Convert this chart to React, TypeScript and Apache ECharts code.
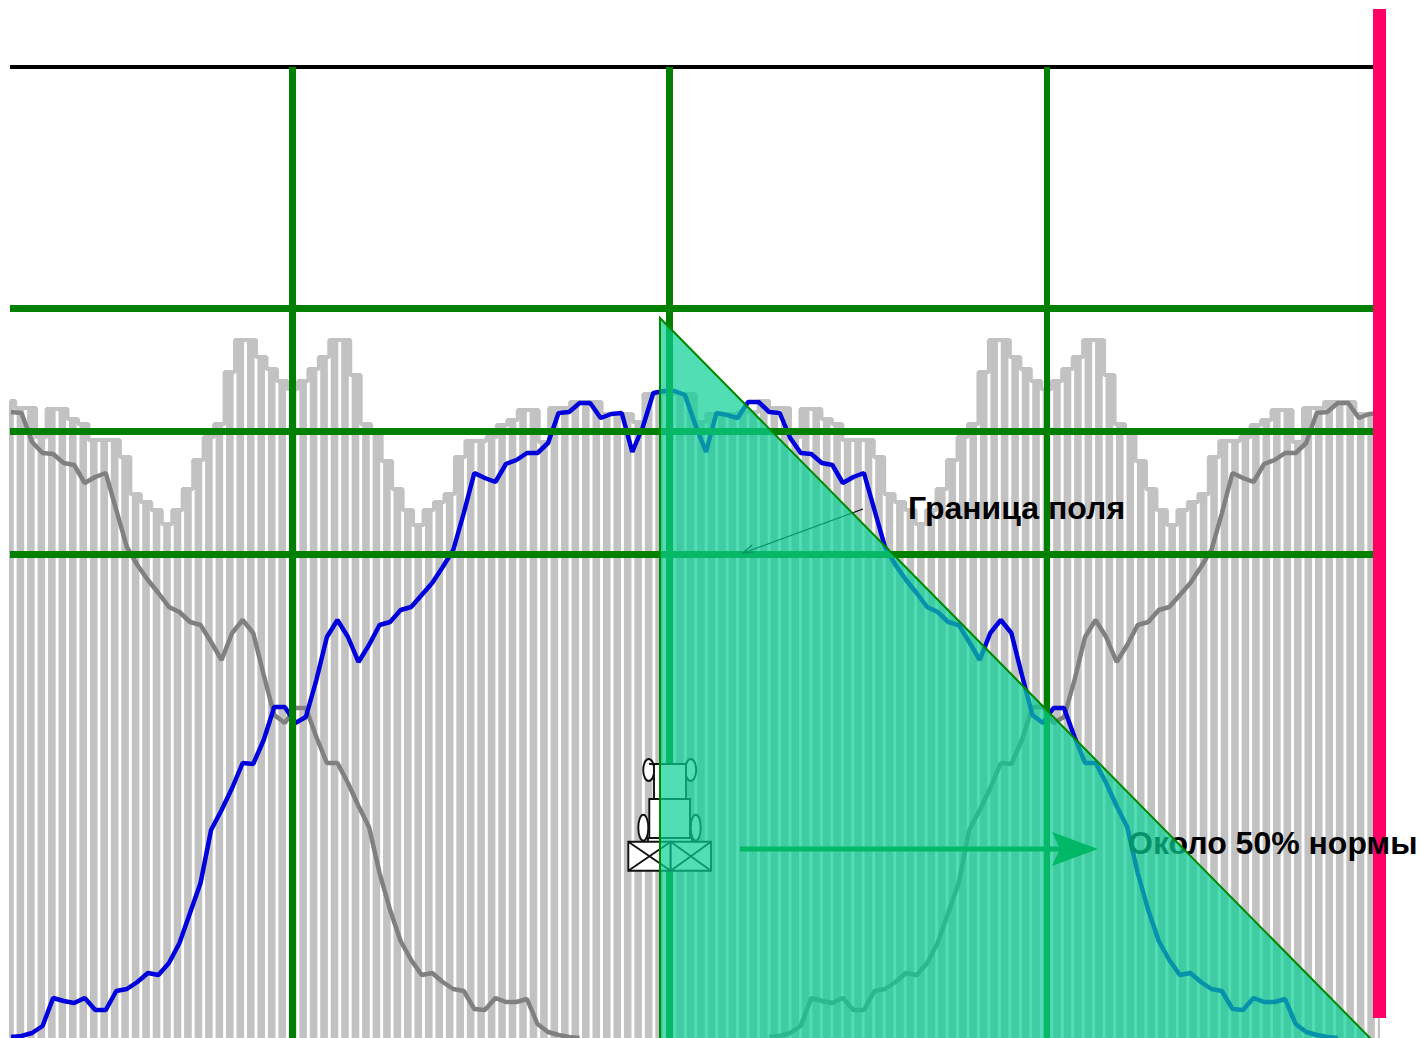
import React, { useEffect, useRef } from "react";
import * as echarts from "echarts";

const WIDTH = 1422;
const HEIGHT = 1038;

// Bar heights in chart units (one unit is one pixel of plot height)
const barValues = [
  637, 630, 630, 601, 629, 629, 619, 614, 598, 598, 598, 581, 544, 536, 528, 514, 528, 549,
  578, 601, 614, 666, 698, 698, 681, 669, 657, 649, 657, 669, 681, 698, 698, 663, 614, 606,
  577, 549, 528, 513, 528, 536, 544, 581, 597, 597, 601, 613, 618, 628, 628, 596, 630, 630,
  636, 636, 636, 624, 624, 624, 616, 644, 644, 644, 644, 644, 616, 624, 624, 624, 626, 626,
  637, 630, 630, 601, 629, 629, 619, 614, 598, 598, 598, 581, 544, 536, 528, 514, 528, 549,
  578, 601, 614, 666, 698, 698, 681, 669, 657, 649, 657, 669, 681, 698, 698, 663, 614, 606,
  577, 549, 528, 513, 528, 536, 544, 581, 597, 597, 601, 613, 618, 628, 628, 596, 630, 630,
  636, 636, 636, 624, 624, 624,
];

const blueValues: (number | null)[] = [
  1, 2, 5, 12, 40, 37, 35, 40, 28, 28, 47, 49, 56, 65, 63, 75, 95, 125, 155, 208, 228, 250,
  275, 274, 298, 331, 331, 315, 321, 358, 401, 418, 401, 376, 393, 413, 416, 428, 431, 443,
  455, 471, 488, 525, 565, 560, 556, 574, 578, 585, 585, 595, 625, 626, 635, 635, 620, 624,
  625, 586, 611, 645, 647, 647, 643, 613, 586, 625, 623, 620, 636, 636, 626, 625, 600, 585,
  584, 575, 573, 555, 561, 565, 528, 491, 473, 458, 445, 431, 426, 416, 413, 396, 378, 405,
  418, 405, 363, 323, 315, 330, 330, 301, 275, 275, 255, 232, 211, 165, 128, 97, 78, 63, 65,
  56, 49, 47, 29, 28, 40, 36, 36, 39, 14, 6, 3, 1, 0, null, null, null, null,
];

const grayValues: (number | null)[] = [
  626, 625, 596, 585, 584, 575, 573, 555, 561, 565, 528, 491, 473, 458, 445, 431, 426, 416,
  413, 396, 378, 405, 418, 405, 363, 323, 315, 330, 330, 301, 275, 275, 255, 232, 211, 165,
  128, 97, 78, 63, 65, 56, 49, 47, 29, 28, 40, 36, 36, 39, 14, 6, 3, 1, 0, null, null, null,
  null, null, null, null, null, null, null, null, null, null, null, null, null, null,
  1, 2, 5, 12, 40, 37, 35, 40, 28, 28, 47, 49, 56, 65, 63, 75, 95, 125, 155, 208, 228, 250,
  275, 274, 298, 331, 331, 315, 321, 358, 401, 418, 401, 376, 393, 413, 416, 428, 431, 443,
  455, 471, 488, 525, 565, 560, 556, 574, 578, 585, 585, 595, 625, 626, 635, 635, 620, 624, 625,
];

const horizontalLines = [730, 607, 484];
const topLine = 971;
const verticalLines = ["27", "63", "99"];
const verticalWidths = [7, 7, 6];

const barCategories = barValues.map((_, i) => String(i));
const lineCategories = blueValues.map((_, i) => String(i));

const fieldLabel = "Граница поля";
const rateLabel = "Около 50% нормы";

const FONT = '"Liberation Sans", Arial, sans-serif';

function tractor() {
  const stroke = { stroke: "#111", lineWidth: 1.9 };
  const body = { ...stroke, fill: "#fff" };
  const rect = (x: number, y: number, width: number, height: number) => ({
    type: "rect",
    shape: { x, y, width, height },
    style: body,
    z: 20,
  });
  const wheel = (cx: number, cy: number, rx: number, ry: number) => ({
    type: "ellipse",
    shape: { cx, cy, rx, ry },
    style: body,
    z: 20,
  });
  const line = (x1: number, y1: number, x2: number, y2: number) => ({
    type: "line",
    shape: { x1, y1, x2, y2 },
    style: stroke,
    z: 21,
  });
  return [
    wheel(648.7, 770, 5.5, 11),
    wheel(690.7, 770, 5.5, 11),
    wheel(643.3, 827.7, 5, 13),
    wheel(695.7, 827.7, 5, 13),
    line(649, 764, 655, 764),
    rect(654, 764, 32, 35),
    rect(649.3, 799, 40.7, 39),
    rect(648, 838, 44, 4),
    rect(628.3, 841.7, 42.4, 29),
    rect(670.7, 841.7, 40.3, 29),
    line(628.3, 841.7, 670.7, 870.7),
    line(628.3, 870.7, 670.7, 841.7),
    line(670.7, 841.7, 711, 870.7),
    line(670.7, 870.7, 711, 841.7),
  ];
}

export default function App() {
  const ref = useRef<HTMLDivElement>(null);

  useEffect(() => {
    if (!ref.current) return;
    const chart = echarts.init(ref.current, undefined, { renderer: "svg" });
    const hPairs = horizontalLines.map((v) => [
      { xAxis: "0", yAxis: v, lineStyle: { color: "#008000", width: 7, type: "solid" } },
      { xAxis: "131", yAxis: v },
    ]);
    const blackPair = [
      { xAxis: "0", yAxis: topLine, lineStyle: { color: "#000", width: 4, type: "solid" } },
      { xAxis: "131", yAxis: topLine },
    ];
    const vPairs = verticalLines.map((k, i) => [
      { xAxis: k, yAxis: topLine, lineStyle: { color: "#008000", width: verticalWidths[i], type: "solid" } },
      { xAxis: k, yAxis: 0 },
    ]);
    chart.setOption({
      animation: false,
      backgroundColor: "#fff",
      tooltip: { show: false },
      grid: [
        { left: 9.95, top: 0, width: 1371.6, height: HEIGHT, show: false },
        { left: 11, top: 0, width: 1368.9, height: HEIGHT, show: false },
      ],
      xAxis: [
        { type: "category", gridIndex: 0, data: barCategories, boundaryGap: false, show: false },
        { type: "category", gridIndex: 1, data: lineCategories, boundaryGap: false, show: false },
      ],
      yAxis: [
        { type: "value", gridIndex: 0, min: 0, max: HEIGHT, show: false },
        { type: "value", gridIndex: 1, min: 0, max: HEIGHT, show: false },
      ],
      series: [
        {
          name: "bars",
          type: "bar",
          xAxisIndex: 0,
          yAxisIndex: 0,
          data: barValues,
          barWidth: 7.6,
          clip: true,
          z: 1,
          itemStyle: { color: "#c2c2c2" },
          silent: true,
          markLine: {
            silent: true,
            symbol: "none",
            label: { show: false },
            animation: false,
            z: 6,
            data: [blackPair, ...hPairs, ...vPairs],
          },
        },
        {
          name: "outline",
          type: "line",
          xAxisIndex: 0,
          yAxisIndex: 0,
          data: barValues,
          step: "middle",
          symbol: "none",
          z: 2,
          silent: true,
          lineStyle: { color: "#c2c2c2", width: 4 },
        },
        {
          name: "gray",
          type: "line",
          xAxisIndex: 1,
          yAxisIndex: 1,
          data: grayValues,
          symbol: "none",
          connectNulls: false,
          z: 3,
          silent: true,
          lineStyle: { color: "#808080", width: 4.5 },
        },
        {
          name: "blue",
          type: "line",
          xAxisIndex: 1,
          yAxisIndex: 1,
          data: blueValues,
          symbol: "none",
          connectNulls: false,
          z: 4,
          silent: true,
          lineStyle: { color: "#0000dc", width: 4.5 },
        },
      ],
      graphic: {
        elements: [
          {
            type: "rect",
            shape: { x: 0, y: 0, width: 9, height: HEIGHT },
            style: { fill: "#fff" },
            z: 10,
          },
          {
            type: "rect",
            shape: { x: 1380, y: 0, width: 42, height: HEIGHT },
            style: { fill: "#fff" },
            z: 10,
          },
          ...tractor(),
          {
            type: "rect",
            shape: { x: 1373, y: 9, width: 13, height: 1009 },
            style: { fill: "#ff0066" },
            z: 30,
          },
          {
            type: "line",
            shape: { x1: 863, y1: 509, x2: 743, y2: 553 },
            style: { stroke: "#000", lineWidth: 1.2 },
            z: 31,
          },
          {
            type: "polyline",
            shape: { points: [[752, 545], [743, 553], [755, 552]] },
            style: { stroke: "#000", lineWidth: 1.2, fill: "none" },
            z: 31,
          },
          {
            type: "text",
            x: 908,
            y: 508,
            style: {
              text: fieldLabel,
              font: `bold 32px ${FONT}`,
              fill: "#000",
              textVerticalAlign: "middle",
            },
            z: 35,
          },
          {
            type: "text",
            x: 1128,
            y: 843,
            style: {
              text: rateLabel,
              font: `bold 32px ${FONT}`,
              fill: "#000",
              textVerticalAlign: "middle",
            },
            z: 35,
          },
          {
            type: "polygon",
            shape: { points: [[660, 318], [660, HEIGHT + 4], [1374, HEIGHT + 4]] },
            style: { fill: "rgba(9,208,148,0.7)", stroke: "#008a00", lineWidth: 2 },
            z: 40,
          },
          {
            type: "line",
            shape: { x1: 740, y1: 849, x2: 1070, y2: 849 },
            style: { stroke: "#00b865", lineWidth: 5 },
            z: 45,
          },
          {
            type: "polygon",
            shape: { points: [[1098, 849], [1052, 832], [1060, 849], [1052, 866]] },
            style: { fill: "#00b865" },
            z: 45,
          },
        ],
      },
    });
    return () => chart.dispose();
  }, []);

  return (
    <div
      ref={ref}
      style={{ position: "absolute", left: 0, top: 0, width: WIDTH, height: HEIGHT }}
    />
  );
}
